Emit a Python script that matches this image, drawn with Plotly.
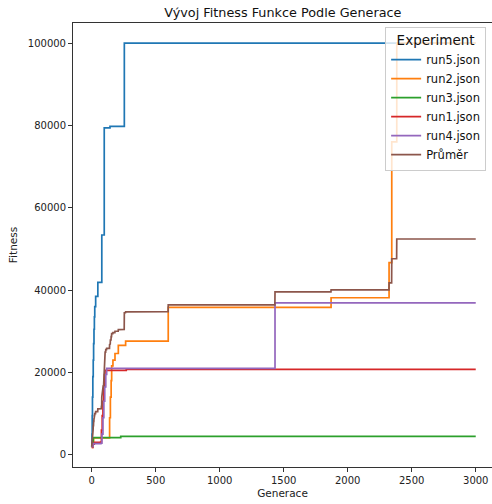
import numpy as np
import plotly.graph_objects as go

# Best fitness per run, stored as (generation, value) breakpoints where it improves
run5_gen = [0, 2, 4, 6, 9, 12, 15, 18, 21, 24, 31, 48, 79, 98, 143, 255]
run5_fit = [2200, 5000, 9500, 14000, 19000, 23000, 27000, 30500, 33500, 36000,
            38500, 41900, 53400, 79400, 79800, 100000]

run2_gen = [0, 10, 15, 136, 140, 146, 152, 156, 166, 182, 208, 265, 598, 1870,
            2323, 2344, 2383]
run2_fit = [1800, 2800, 4100, 4100, 9000, 14000, 18000, 21600, 23000, 24600,
            26600, 27600, 35800, 38150, 46700, 76000, 100000]

run3_gen = [0, 6, 12, 227]
run3_fit = [2000, 3000, 4150, 4450]

run1_gen = [0, 8, 20, 70, 76, 82, 88, 94, 100, 104, 270]
run1_fit = [1800, 2600, 3000, 3100, 6000, 9500, 13000, 16500, 19500, 20500, 20750]

run4_gen = [0, 10, 72, 80, 88, 95, 102, 110, 117, 1432]
run4_fit = [2000, 2700, 2800, 5000, 9000, 13000, 16500, 19500, 21000, 36900]

last_gen = 3000
x_ticks = [0, 500, 1000, 1500, 2000, 2500, 3000]
y_ticks = [0, 20000, 40000, 60000, 80000, 100000]

runs = [
    ("run5.json", run5_gen, run5_fit, "#1f77b4"),
    ("run2.json", run2_gen, run2_fit, "#ff7f0e"),
    ("run3.json", run3_gen, run3_fit, "#2ca02c"),
    ("run1.json", run1_gen, run1_fit, "#d62728"),
    ("run4.json", run4_gen, run4_fit, "#9467bd"),
]

generations = np.arange(0, last_gen + 1)


def hold_values(gens, fits):
    # best-so-far value at every generation
    idx = np.searchsorted(np.array(gens), generations, side="right") - 1
    return np.array(fits, dtype=float)[idx]


fig = go.Figure()
per_gen = []
for name, g, f, color in runs:
    per_gen.append(hold_values(g, f))
    fig.add_trace(go.Scatter(
        x=list(g) + [last_gen], y=list(f) + [f[-1]], name=name, mode="lines",
        line=dict(color=color, width=1.7, shape="hv"),
    ))

mean_fit = np.mean(per_gen, axis=0)
fig.add_trace(go.Scatter(
    x=generations, y=mean_fit, name="Průměr", mode="lines",
    line=dict(color="#8c564b", width=1.7),
))

font = "DejaVu Sans"
fig.update_layout(
    width=492, height=504,
    margin=dict(l=73, r=0, t=23, b=37),
    paper_bgcolor="white", plot_bgcolor="white",
    font=dict(family=font, size=10, color="#222"),
    title=dict(text="Vývoj Fitness Funkce Podle Generace", x=0.575, xanchor="center",
               y=0.985, yanchor="top", font=dict(size=12.8, color="#111")),
    showlegend=True,
    legend=dict(
        x=0.986, y=0.992, xanchor="right", yanchor="top",
        bgcolor="rgba(255,255,255,0.8)", bordercolor="#cccccc", borderwidth=1,
        font=dict(size=11.5, color="#111"),
        title=dict(text="Experiment", side="top center", font=dict(size=13.5)),
        tracegroupgap=0, itemwidth=30,
    ),
)
fig.update_xaxes(
    range=[-146, 3127], tickvals=x_ticks, ticks="outside", ticklen=4,
    tickcolor="#333", showline=True, linecolor="#333", linewidth=1, mirror=True,
    showgrid=False, zeroline=False,
    title=dict(text="Generace", font=dict(size=10.5), standoff=4),
)
fig.update_yaxes(
    range=[-2970, 104900], tickvals=y_ticks, tickformat="d", ticks="outside",
    ticklen=4, tickcolor="#333", showline=True, linecolor="#333", linewidth=1,
    showgrid=False, zeroline=False,
    title=dict(text="Fitness", font=dict(size=10.5), standoff=8),
)

fig.write_html("out.html")
